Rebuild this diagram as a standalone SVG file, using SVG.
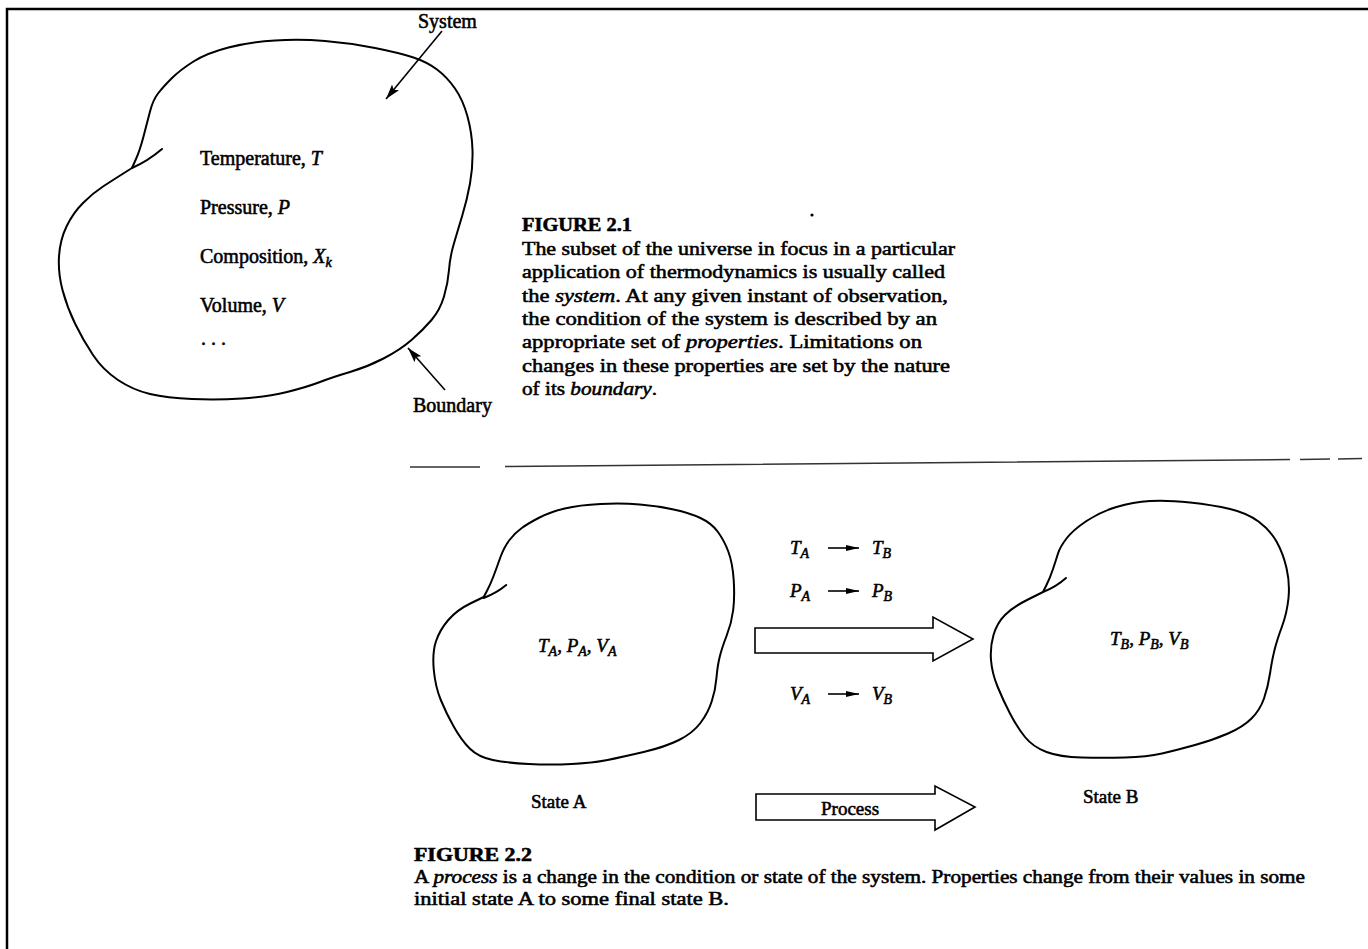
<svg xmlns="http://www.w3.org/2000/svg" width="1368" height="949" viewBox="0 0 1368 949">
<style>
  .bg{fill:#fff}
  .blob{fill:none;stroke:#000;stroke-width:2;stroke-linejoin:round;stroke-linecap:round}
  .t{font-family:"Liberation Serif","Times New Roman",serif;fill:#000;stroke:#000;stroke-width:0.55}
  .lbl{font-size:20px}
  .cap{font-size:19px}
  .cap2{font-size:18px}
  .hd{font-weight:bold}
  .it{font-style:italic}
  .sub{font-size:14px;font-style:italic}
  .ln{stroke:#000;stroke-width:1.6;fill:none}
  .big{fill:#fff;stroke:#000;stroke-width:1.6;stroke-linejoin:miter}
  .frame{stroke:#000;stroke-width:2.5;fill:none}
  .sep{stroke:#333;stroke-width:1.5;fill:none}
</style>
<defs>
  <marker id="ah" markerUnits="userSpaceOnUse" markerWidth="16" markerHeight="10" refX="15" refY="4.5" orient="auto">
    <path d="M0,0 L15,4.5 L0,9 L3,4.5 z" fill="#000"/>
  </marker>
  <marker id="sa" markerUnits="userSpaceOnUse" markerWidth="14" markerHeight="8" refX="13" refY="3" orient="auto">
    <path d="M0,0 L13,3 L0,6 z" fill="#000"/>
  </marker>
</defs>
<rect class="bg" x="0" y="0" width="1368" height="949"/>

<g id="frame">
  <path class="frame" d="M7,949 L7,9 L1368,9"/>
</g>

<g id="system">
  <path class="blob" d="M132,168 L136,159 Q140,150 143.5,136.5 Q147,123 150,111.5 Q153,100 158,93.5 Q163,87 171.5,78.5 Q180,70 193.5,61.5 Q207,53 228.5,47.5 Q250,42 275,40.5 Q300,39 325,41 Q350,43 375,48 Q400,53 413.5,57.5 Q427,62 437,69.5 Q447,77 455,88.5 Q463,100 467.5,116.5 Q472,133 472.5,150 Q473,167 470,183.5 Q467,200 462,216.5 Q457,233 453.5,245 Q450,257 449,270 Q448,283 444,296.5 Q440,310 431.5,320 Q423,330 411.5,340 Q400,350 383.5,358.5 Q367,367 350,372 Q333,377 320,382 Q307,387 287,392 Q267,397 242,398.5 Q217,400 192,399 Q167,398 150,394 Q133,390 118,380 Q103,370 93,355 Q83,340 75,323.5 Q67,307 62.5,290 Q58,273 59,256.5 Q60,240 66.5,226.5 Q73,213 83,203 Q93,193 103,186.5 Q113,180 122.5,174 L132,168"/>
  <path class="blob" d="M162,149 Q148,161 132,168"/>
  <text class="t lbl" x="200" y="165">Temperature, <tspan class="it">T</tspan></text>
  <text class="t lbl" x="200" y="214">Pressure, <tspan class="it">P</tspan></text>
  <text class="t lbl" x="200" y="263">Composition, <tspan class="it">X</tspan><tspan class="sub" dy="4">k</tspan></text>
  <text class="t lbl" x="200" y="312">Volume,  <tspan class="it">V</tspan></text>
  <text class="t lbl" x="201" y="345">. . .</text>
</g>

<g id="label-system">
  <text class="t lbl" x="418" y="28">System</text>
</g>
<g id="label-boundary">
  <text class="t lbl" x="413" y="412">Boundary</text>
</g>

<g id="caption-2-1">
  <text class="t cap hd" x="522" y="231" textLength="110" lengthAdjust="spacingAndGlyphs">FIGURE 2.1</text>
  <text class="t cap" x="522" y="255" textLength="433" lengthAdjust="spacingAndGlyphs">The subset of the universe in focus in a particular</text>
  <text class="t cap" x="522" y="278" textLength="423" lengthAdjust="spacingAndGlyphs">application of thermodynamics is usually called</text>
  <text class="t cap" x="522" y="302" textLength="426" lengthAdjust="spacingAndGlyphs">the <tspan class="it">system</tspan>. At any given instant of observation,</text>
  <text class="t cap" x="522" y="325" textLength="415" lengthAdjust="spacingAndGlyphs">the condition of the system is described by an</text>
  <text class="t cap" x="522" y="348" textLength="400" lengthAdjust="spacingAndGlyphs">appropriate set of <tspan class="it">properties</tspan>. Limitations on</text>
  <text class="t cap" x="522" y="372" textLength="428" lengthAdjust="spacingAndGlyphs">changes in these properties are set by the nature</text>
  <text class="t cap" x="522" y="395" textLength="135" lengthAdjust="spacingAndGlyphs">of its <tspan class="it">boundary</tspan>.</text>
  <circle cx="812" cy="215" r="1.6" fill="#000"/>
</g>

<g id="separator">
  <path class="sep" d="M410,467 L480,467 M505,466.5 L1290,459.5 M1300,459.5 L1330,459 M1338,459 L1362,458.5"/>
</g>

<g id="state-a">
  <path class="blob" d="M483.7,597 L486.9,591 Q490.1,585 493.4,576.5 Q496.6,568 500.3,557.5 Q504.1,547 509.5,540 Q514.8,533 521.8,528 Q528.8,523 539.5,517.5 Q550.2,512 564.7,508.5 Q579.2,505 600.6,504 Q622.1,503 639.8,504.5 Q657.5,506 673.6,509.5 Q689.7,513 700.4,518 Q711.2,523 717.6,531.5 Q724,540 728.3,551.5 Q732.6,563 733.7,580 Q734.8,597 733.2,610 Q731.6,623 726.7,635.5 Q721.9,648 719.8,656.5 Q717.6,665 716.5,677.5 Q715.5,690 711.7,701.5 Q708,713 700.4,723 Q692.9,733 679,740 Q665,747 643.6,752 Q622.1,757 607.6,760 Q593.1,763 571.7,764 Q550.2,765 528.8,764 Q507.3,763 492.8,760 Q478.3,757 469.7,748.5 Q461.2,740 453.7,726.5 Q446.1,713 440.8,700 Q435.4,687 433.8,670 Q432.2,653 435.9,641.5 Q439.7,630 448.3,620 Q456.9,610 470.3,603.5 L483.7,597"/>
  <path class="blob" d="M506.2,585 Q496.6,593 483.7,598"/>
  <text class="t cap it" x="538" y="652">T<tspan class="sub" dy="4">A</tspan><tspan dy="-4">, P</tspan><tspan class="sub" dy="4">A</tspan><tspan dy="-4">, V</tspan><tspan class="sub" dy="4">A</tspan></text>
  <text class="t cap" x="531" y="808">State A</text>
</g>

<g id="state-b">
  <path class="blob" d="M1043,592 L1046.5,585 Q1050,578 1053,569 Q1056,560 1058,553.5 Q1060,547 1066.5,538.5 Q1073,530 1086.5,521 Q1100,512 1116.5,507 Q1133,502 1150,501 Q1167,500 1190,502.5 Q1213,505 1230,509 Q1247,513 1258.5,521.5 Q1270,530 1276.5,541.5 Q1283,553 1286.5,568 Q1290,583 1288.5,598 Q1287,613 1282,626.5 Q1277,640 1274.5,650 Q1272,660 1270,673.5 Q1268,687 1264,698.5 Q1260,710 1251.5,718.5 Q1243,727 1228,733.5 Q1213,740 1195,745 Q1177,750 1162,753.5 Q1147,757 1125,757.5 Q1103,758 1081.5,757.5 Q1060,757 1046.5,752 Q1033,747 1025,737 Q1017,727 1010,713.5 Q1003,700 997.5,686.5 Q992,673 991,660 Q990,647 993.5,635 Q997,623 1005,615 Q1013,607 1028,599.5 L1043,592"/>
  <path class="blob" d="M1066,578 Q1056,587 1043,592"/>
  <text class="t cap it" x="1110" y="645">T<tspan class="sub" dy="4">B</tspan><tspan dy="-4">, P</tspan><tspan class="sub" dy="4">B</tspan><tspan dy="-4">, V</tspan><tspan class="sub" dy="4">B</tspan></text>
  <text class="t cap" x="1083" y="803">State B</text>
</g>

<g id="transitions">
  <text class="t cap it" x="790" y="554">T<tspan class="sub" dy="4">A</tspan></text>
  <text class="t cap it" x="872" y="554">T<tspan class="sub" dy="4">B</tspan></text>
  <text class="t cap it" x="790" y="597">P<tspan class="sub" dy="4">A</tspan></text>
  <text class="t cap it" x="872" y="597">P<tspan class="sub" dy="4">B</tspan></text>
  <text class="t cap it" x="790" y="700">V<tspan class="sub" dy="4">A</tspan></text>
  <text class="t cap it" x="872" y="700">V<tspan class="sub" dy="4">B</tspan></text>
</g>

<g id="process-arrow">
  <path class="big" d="M755,628 L933,628 L933,617 L973,639 L933,661 L933,653 L755,653 Z"/>
</g>

<g id="process-label-arrow">
  <path class="big" d="M756,794 L935,794 L935,786 L975,807 L935,830 L935,820 L756,820 Z"/>
  <text class="t cap" x="821" y="815">Process</text>
</g>

<g id="connectors">
  <line class="ln" x1="442" y1="31" x2="386" y2="99" marker-end="url(#ah)"/>
  <line class="ln" x1="445" y1="390" x2="408" y2="348" marker-end="url(#ah)"/>
  <line class="ln" x1="828" y1="548" x2="859" y2="548" marker-end="url(#sa)"/>
  <line class="ln" x1="828" y1="591" x2="859" y2="591" marker-end="url(#sa)"/>
  <line class="ln" x1="828" y1="694" x2="859" y2="694" marker-end="url(#sa)"/>
</g>

<g id="caption-2-2">
  <text class="t cap2 hd" x="414" y="861" textLength="118" lengthAdjust="spacingAndGlyphs">FIGURE 2.2</text>
  <text class="t cap2" x="414" y="883" textLength="891" lengthAdjust="spacingAndGlyphs">A <tspan class="it">process</tspan> is a change in the condition or state of the system. Properties change from their values in some</text>
  <text class="t cap2" x="414" y="905" textLength="315" lengthAdjust="spacingAndGlyphs">initial state A to some final state B.</text>
</g>
</svg>
